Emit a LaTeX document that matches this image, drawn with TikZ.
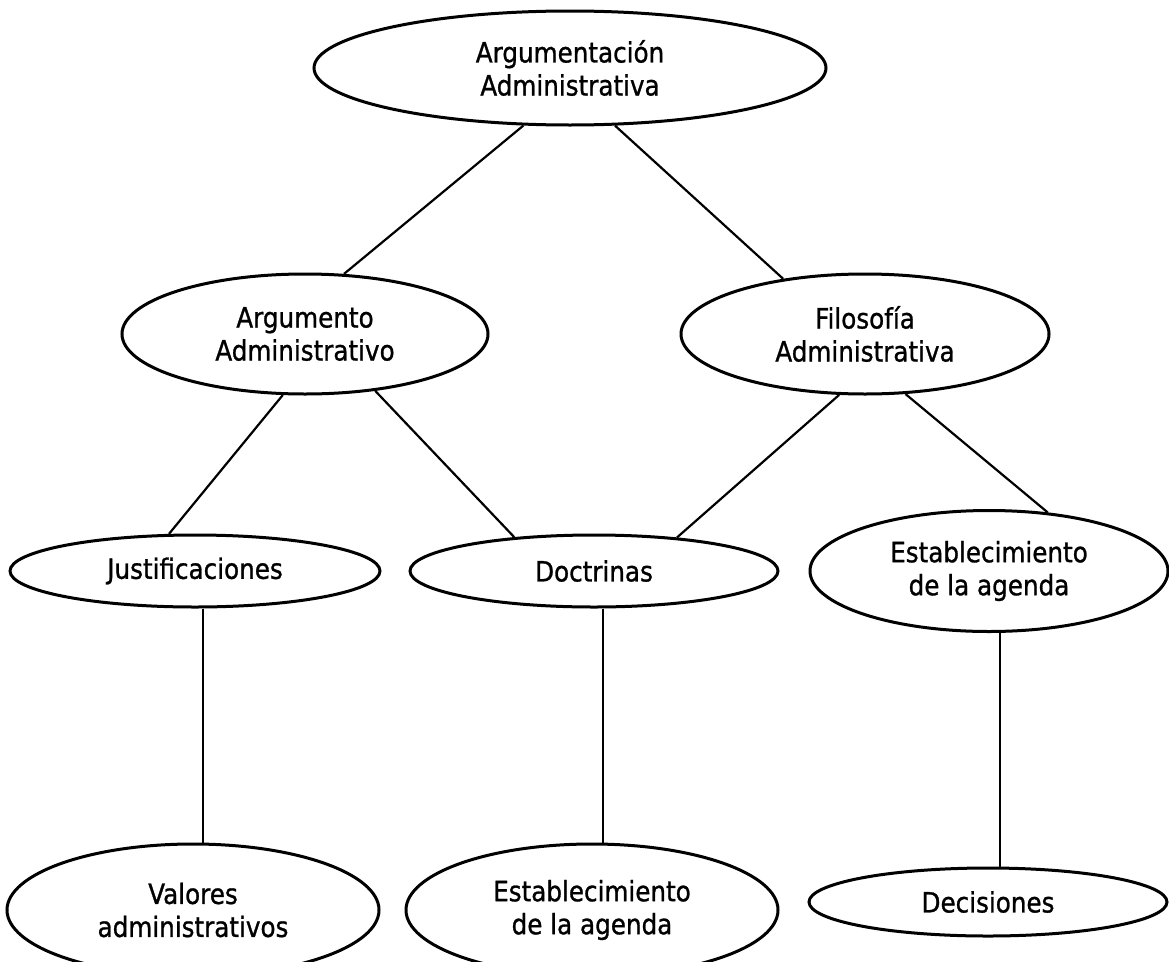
\documentclass[tikz,border=0pt]{standalone}
\usepackage{fontspec}
\setmainfont{DejaVu Sans}[FakeStretch=0.88, FakeBold=1]
\usetikzlibrary{shapes.geometric}

\begin{document}
\begin{tikzpicture}[x=1pt, y=-1pt,
        elli/.style={draw, ellipse, line width=3pt, inner sep=0pt, align=center,
            font=\fontsize{28}{33}\selectfont},
        conn/.style={line width=2.2pt}]
        \clip (0,0) rectangle (1169,961);
        \node[elli, minimum width=512pt, minimum height=114pt] (argadm) at (570,68) {Argumentación\\Administrativa};
        \node[elli, minimum width=366pt, minimum height=120pt] (argmto) at (305,334) {Argumento\\Administrativo};
        \node[elli, minimum width=368pt, minimum height=120pt] (filo) at (865,334) {Filosofía\\Administrativa};
        \node[elli, minimum width=370pt, minimum height=72pt] (just) at (195,571) {Justificaciones};
        \node[elli, minimum width=368pt, minimum height=72pt] (doct) at (594,571) {Doctrinas};
        \node[elli, minimum width=358pt, minimum height=121pt] (agendaR) at (989,571) {Establecimiento\\de la agenda};
        \node[elli, minimum width=372pt, minimum height=132pt] (valo) at (193,910) {Valores\\administrativos};
        \node[elli, minimum width=372pt, minimum height=132pt] (agendaM) at (592,910) {Establecimiento\\de la agenda};
        \node[elli, minimum width=358pt, minimum height=68pt] (deci) at (988,902) {Decisiones};
        % ramas
        \draw[conn] (argadm.231) -- (argmto.57); \draw[conn] (argadm.308) -- (filo.146);
        \draw[conn] (argmto.250) -- (just.125); \draw[conn] (argmto.321) -- (doct.157);
        \draw[conn] (filo.247) -- (doct.22); \draw[conn] (filo.304) -- (agendaR.45);
        % verticales
        \draw[conn] ([xshift=8pt]just.south) -- ([xshift=10pt]valo.north);
        \draw[conn] ([xshift=9pt]doct.south) -- ([xshift=11pt]agendaM.north);
        \draw[conn] ([xshift=11pt]agendaR.south) -- ([xshift=12pt]deci.north);
    \end{tikzpicture}
\end{document}
